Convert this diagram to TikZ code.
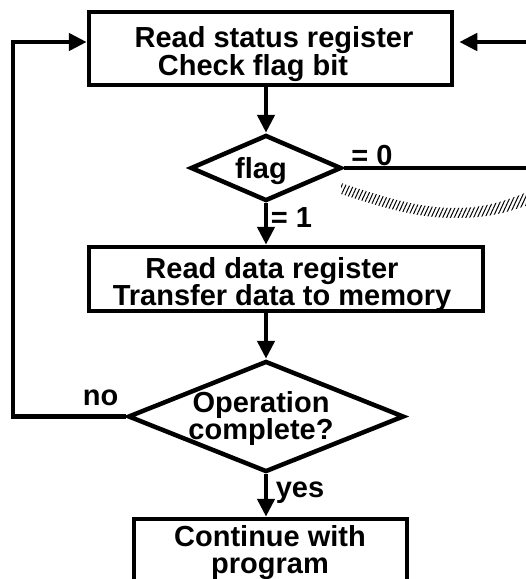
\documentclass[tikz,border=0pt]{standalone}
\usepackage{fontspec}
\setmainfont{Liberation Sans}
\usetikzlibrary{shapes.geometric, arrows.meta, patterns.meta}

% two centred lines whose reference point is the first baseline,
% set exactly one \baselineskip apart
\newcommand\stackedlines[2]{\vtop{\lineskiplimit=-\maxdimen
  \halign{\hfil##\hfil\cr #1\cr #2\cr}}}

\tikzset{
  stepbox/.style={draw, line width=4.5pt, inner sep=0pt},
  decision/.style={draw, diamond, line width=4.5pt, inner sep=0pt},
  flowline/.style={line width=4.5pt},
  flowarrow/.style={line width=4.5pt, -{Triangle[length=18pt, width=17pt]}},
  lbl/.style={font=\bfseries\fontsize{29}{28}\selectfont, inner sep=0pt, anchor=base},
  tightlbl/.style={lbl, font=\bfseries\fontsize{29}{27}\selectfont},
}

\begin{document}
\begin{tikzpicture}[x=1pt, y=-1pt]
  \useasboundingbox (0,0) rectangle (526,579);
  \clip (0,0) rectangle (526,579);
  \fill[white] (0,0) rectangle (526,579);

  % process boxes and decisions
  \node[stepbox, minimum width=363, minimum height=73] (b1) at (270.5,48.5) {};
  \node[decision, minimum width=151, minimum height=66] (d1) at (266,168) {};
  \node[stepbox, minimum width=394, minimum height=64] (b2) at (286,279) {};
  \node[decision, minimum width=276, minimum height=111] (d2) at (266,416.5) {};
  \node[stepbox, minimum width=273, minimum height=81] (b3) at (270.5,559.5) {};

  % texts
  \node[lbl] (t1a) at (274,47) {Read status register};
  \node[lbl] (t1b) at (253,75) {Check flag bit};
  \node[lbl] (tf) at (261,178) {flag};
  \node[lbl] (tz) at (372,165) {= 0};
  \node[lbl] (to) at (291.5,227) {= 1};
  \node[lbl] (t2a) at (272,278) {Read data register};
  \node[lbl] (t2b) at (282,305) {Transfer data to memory};
  \node[lbl] (tno) at (100.5,405) {no};
  \node[tightlbl] (t3) at (261,412) {\stackedlines{Operation}{complete?}};
  \node[lbl] (tyes) at (300,497) {yes};
  \node[tightlbl] (t4) at (270,546) {\stackedlines{Continue with}{program}};

  % main flow
  \draw[flowarrow] (b1.south -| d1.north) -- (d1.north);
  \draw[flowarrow] (d1.south) -- (d1.south |- b2.north);
  \draw[flowarrow] (b2.south -| d2.north) -- (d2.north);
  \draw[flowarrow] (d2.south) -- (d2.south |- b3.north);

  % "no" loop back to the status read
  \coordinate (lc) at (13,42);
  \draw[flowarrow] (d2.west) -| (lc) -- (lc -| b1.west);

  % return from the right
  \coordinate (rin) at (540,42);
  \draw[flowarrow, shorten >=5pt] (rin) -- (rin -| b1.east);

  % flag = 0 branch
  \coordinate (rout) at (540,168);
  \draw[flowline] (d1.east) -- (rout);

  % hatched band under the = 0 branch
  \fill[pattern={Lines[angle=65, distance=3.5pt, line width=1pt]}, pattern color=black]
    (341,183) .. controls (390,199) and (420,208) .. (456,208)
    .. controls (488,208) and (510,199) .. (530,191)
    -- (530,204) .. controls (510,212) and (488,218) .. (456,218)
    .. controls (420,218) and (390,210) .. (341,194) -- cycle;
\end{tikzpicture}
\end{document}
